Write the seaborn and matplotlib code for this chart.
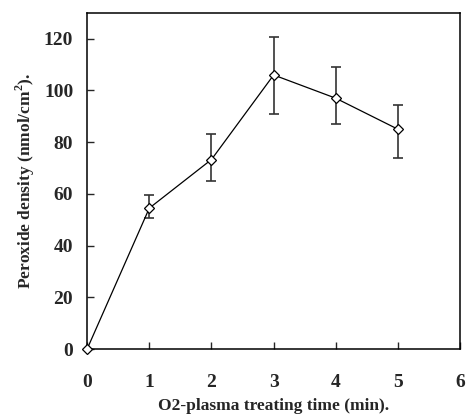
import numpy as np
import pandas as pd
import matplotlib.pyplot as plt
import seaborn as sns

time_min = [0, 1, 2, 3, 4, 5]
peroxide = [0, 54.5, 73.3, 106, 97, 85]
err_low = [0, 4.0, 8.3, 15.0, 9.8, 11.0]
err_high = [0, 5.0, 9.7, 14.8, 12.0, 9.2]

df = pd.DataFrame({"time": time_min, "peroxide": peroxide})

sns.set_theme(style="ticks")
plt.rcParams['font.family'] = ['Liberation Serif', 'DejaVu Serif']
plt.rcParams['font.weight'] = 'bold'
plt.rcParams['mathtext.fontset'] = 'custom'
plt.rcParams['mathtext.rm'] = 'Liberation Serif:bold'

fig, ax = plt.subplots(figsize=(4.71, 4.17), dpi=100)

ax.errorbar(time_min, peroxide, yerr=[err_low, err_high], fmt='none',
            ecolor='#333333', elinewidth=1.2, capsize=3.5, capthick=1.2, zorder=2)
sns.lineplot(data=df, x="time", y="peroxide", ax=ax, color='black', linewidth=0.9,
             marker='D', markersize=5, markerfacecolor='white',
             markeredgecolor='black', markeredgewidth=0.9, zorder=3, clip_on=False)

ax.set_xlim(0, 6)
ax.set_ylim(0, 130)
ax.set_xticks(range(0, 7))
ax.set_yticks(range(0, 121, 20))
ax.tick_params(axis='x', direction='in', pad=18, length=5, labelsize=14, width=1)
ax.tick_params(axis='y', direction='in', pad=10, length=5, labelsize=14, width=1)
for s in ax.spines.values():
    s.set_linewidth(1.1)
    s.set_color('black')
for lab in ax.get_xticklabels() + ax.get_yticklabels():
    lab.set_fontweight('bold')

ax.set_xlabel('O2-plasma treating time (min).', fontsize=12.5, fontweight='bold', labelpad=5)
ax.set_ylabel(r'Peroxide density (nmol/cm$^{2}$).', fontsize=12.5, fontweight='bold', labelpad=5)

fig.subplots_adjust(left=0.185, right=0.977, top=0.969, bottom=0.163)
fig.savefig('out.png', dpi=100)
